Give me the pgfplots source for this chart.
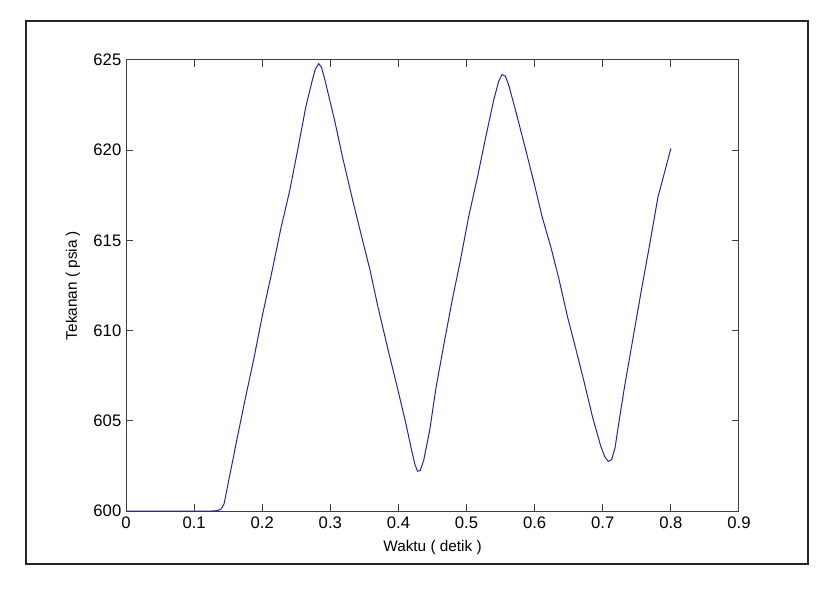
\documentclass[border=0pt]{standalone}
\usepackage{fontspec}
\setmainfont{Liberation Sans}
\usepackage{pgfplots}
\pgfplotsset{compat=1.18}
\definecolor{curve}{rgb}{0.14,0.14,0.66}
\definecolor{axgray}{rgb}{0.25,0.25,0.25}
\begin{document}
\begin{tikzpicture}[x=0.75pt,y=0.75pt]
\path[use as bounding box] (0,0) rectangle (830,590);
\draw[black!85, line width=0.9pt] (26,26) rectangle (808,569);
\begin{axis}[
  at={(94.5pt,59.25pt)}, anchor=south west,
  scale only axis, width=459.75pt, height=338.25pt,
  xmin=0, xmax=0.9, ymin=600, ymax=625,
  xtick={0,0.1,0.2,0.3,0.4,0.5,0.6,0.7,0.8,0.9},
  ytick={600,605,610,615,620,625},
  xticklabels={0,0.1,0.2,0.3,0.4,0.5,0.6,0.7,0.8,0.9},
  tick align=inside, xtick pos=both, ytick pos=both,
  major tick length=5pt,
  axis line style={axgray, line width=0.75pt},
  every tick/.style={axgray, line width=0.75pt},
  /pgf/number format/assume math mode=true,
  tick label style={font=\fontsize{12.5}{14}\selectfont, black},
  yticklabel style={/pgf/number format/.cd, fixed, precision=0},
  xticklabel style={yshift=-1pt},
  scaled y ticks=false,
  xlabel={Waktu ( detik )}, ylabel={Tekanan ( psia )},
  label style={font=\fontsize{11.5}{13}\selectfont},
  xlabel style={at={(axis description cs:0.5,-0.082)}, anchor=center},
  ylabel style={at={(axis description cs:-0.0865,0.5)}, anchor=center, rotate=0},
  clip=false,
]
\addplot[curve, line width=0.75pt, line join=round] coordinates {
(0,600) (0.126,600) (0.134,600.02) (0.140,600.12) (0.144,600.4) (0.153,602.1) (0.163,604.0)
(0.175,606.2) (0.188,608.5) (0.200,610.8) (0.215,613.4) (0.227,615.6)
(0.240,617.7) (0.252,620.0) (0.264,622.4) (0.273,623.8) (0.278,624.5) (0.283,624.8)
(0.287,624.6) (0.292,623.9) (0.306,621.7) (0.318,619.6) (0.333,617.2) (0.346,615.2)
(0.358,613.4) (0.370,611.3) (0.385,608.9) (0.398,606.9) (0.410,605.0)
(0.418,603.6) (0.424,602.6) (0.428,602.2) (0.432,602.25) (0.437,602.8) (0.446,604.5) (0.455,606.8)
(0.467,609.3) (0.479,611.7) (0.491,613.9) (0.503,616.3) (0.516,618.5)
(0.528,620.7) (0.540,622.8) (0.547,623.8) (0.552,624.2) (0.557,624.1) (0.562,623.6) (0.572,622.2)
(0.587,620.0) (0.599,618.2) (0.611,616.3) (0.624,614.6) (0.636,612.8)
(0.648,610.8) (0.661,608.9) (0.673,607.1) (0.685,605.2) (0.697,603.6)
(0.703,603.0) (0.708,602.75) (0.713,602.85) (0.718,603.5) (0.724,605.0) (0.732,606.9) (0.744,609.5)
(0.756,612.1) (0.769,614.8) (0.781,617.4) (0.793,619.1) (0.800,620.1)
};
\end{axis}
\end{tikzpicture}
\end{document}
